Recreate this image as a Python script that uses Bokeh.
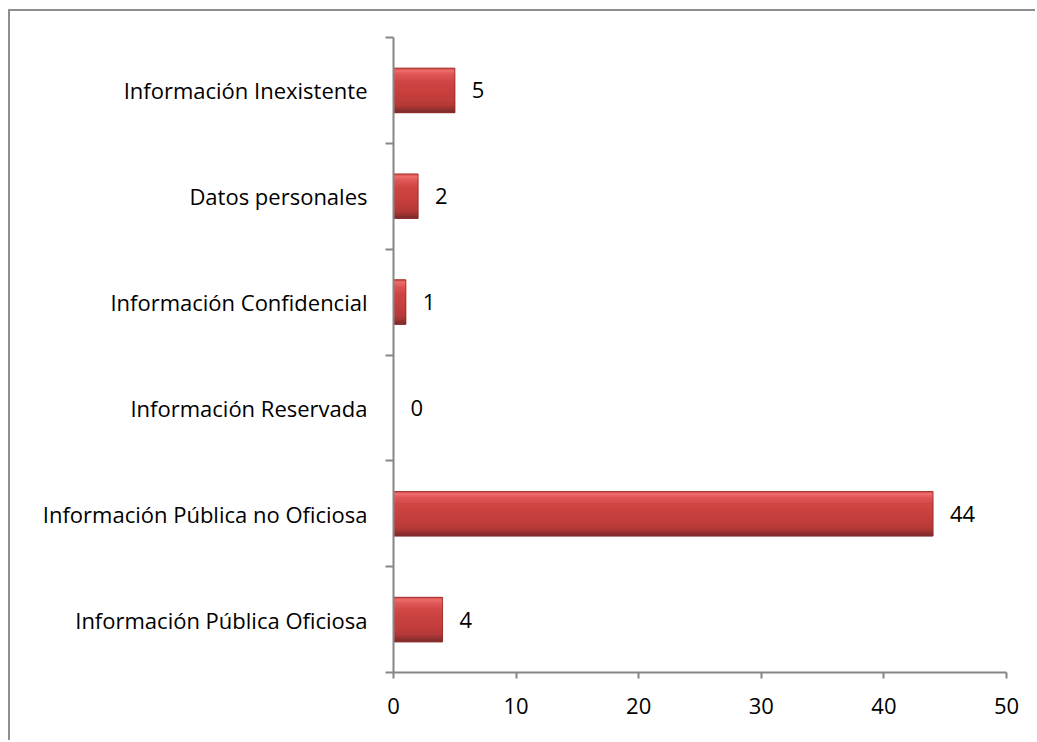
from bokeh.plotting import figure
from bokeh.models import FixedTicker, Range1d, ColumnDataSource
from bokeh.embed import file_html
from bokeh.resources import INLINE
from bokeh.core.properties import value

# Data (top to bottom as shown)
categories = [
    "Información Inexistente",
    "Datos personales",
    "Información Confidencial",
    "Información Reservada",
    "Información Pública no Oficiosa",
    "Información Pública Oficiosa",
]
values = [5, 2, 1, 0, 44, 4]
x_ticks = [0, 10, 20, 30, 40, 50]

n = len(categories)
# bottom-to-top positions
ypos = [n - 1 - i + 0.5 for i in range(n)]

FONT = "Open Sans"

p = figure(width=1027, height=731, output_backend="svg", toolbar_location=None,
           x_range=Range1d(0, 50), y_range=Range1d(0, n),
           min_border_left=383, min_border_right=31, min_border_top=26, min_border_bottom=70)
p.styles = {"border-top": "2px solid #8e8e8e", "border-left": "2px solid #8e8e8e",
            "margin-left": "8px", "margin-top": "9px"}
p.outline_line_color = None
p.xgrid.visible = False
p.ygrid.visible = False

src = ColumnDataSource(dict(y=ypos, v=values, lbl=[str(v) for v in values]))

h = 0.42
# gradient stops (fraction from top, colour) - styling only
stops = [(0.0, (0xc9, 0x40, 0x3e)), (0.05, (0xf0, 0x72, 0x70)), (0.14, (0xe0, 0x58, 0x56)),
         (0.32, (0xcf, 0x46, 0x44)), (0.6, (0xc6, 0x3f, 0x3d)), (0.84, (0xb5, 0x3a, 0x38)),
         (0.93, (0x96, 0x32, 0x31)), (1.0, (0x78, 0x2b, 0x2a))]

def col_at(t):
    for (t0, c0), (t1, c1) in zip(stops[:-1], stops[1:]):
        if t0 <= t <= t1:
            f = (t - t0) / (t1 - t0) if t1 > t0 else 0
            return "#%02x%02x%02x" % tuple(int(round(a + (b - a) * f)) for a, b in zip(c0, c1))
    return "#%02x%02x%02x" % stops[-1][1]

# base fill (covers seams)
p.hbar(y="y", right="v", left=0, height=h, source=src,
       fill_color="#c84240", line_color=None)

nstrips = 22
sh = h / nstrips
for k in range(nstrips):
    t = (k + 0.5) / nstrips
    ys = [y + h / 2 - (k + 0.5) * sh for y in ypos]
    s = ColumnDataSource(dict(y=ys, v=values))
    c = col_at(t)
    p.hbar(y="y", right="v", left=0, height=sh, source=s,
           fill_color=c, line_color=c, line_width=0.8)

# outline
p.hbar(y="y", right="v", left=0, height=h, source=src,
       fill_color=None, line_color="#8e2a28", line_width=1, line_alpha=0.7)

p.text(x="v", y="y", text="lbl", source=src, x_offset=17,
       text_align="left", text_baseline="middle",
       text_font=value(FONT), text_font_size="22px", text_color="#000000")

# x axis
xa = p.xaxis[0]
xa.ticker = FixedTicker(ticks=x_ticks)
xa.axis_line_color = "#868686"
xa.axis_line_width = 2
xa.major_tick_line_color = "#868686"
xa.major_tick_line_width = 2
xa.major_tick_out = 6
xa.major_tick_in = 0
xa.minor_tick_line_color = None
xa.major_label_text_font = FONT
xa.major_label_text_font_size = "22px"
xa.major_label_text_color = "#000000"
xa.major_label_standoff = 19

# y axis
ya = p.yaxis[0]
ya.ticker = FixedTicker(ticks=ypos, minor_ticks=list(range(n + 1)))
ya.major_label_overrides = {y: c for y, c in zip(ypos, categories)}
ya.axis_line_color = "#868686"
ya.axis_line_width = 2
ya.major_tick_line_color = None
ya.major_tick_out = 0
ya.major_tick_in = 0
ya.minor_tick_line_color = "#868686"
ya.minor_tick_line_width = 2
ya.minor_tick_out = 8
ya.minor_tick_in = 0
ya.major_label_text_font = FONT
ya.major_label_text_font_size = "22px"
ya.major_label_text_color = "#000000"
ya.major_label_standoff = 18

open("out.html", "w").write(file_html(p, INLINE))
